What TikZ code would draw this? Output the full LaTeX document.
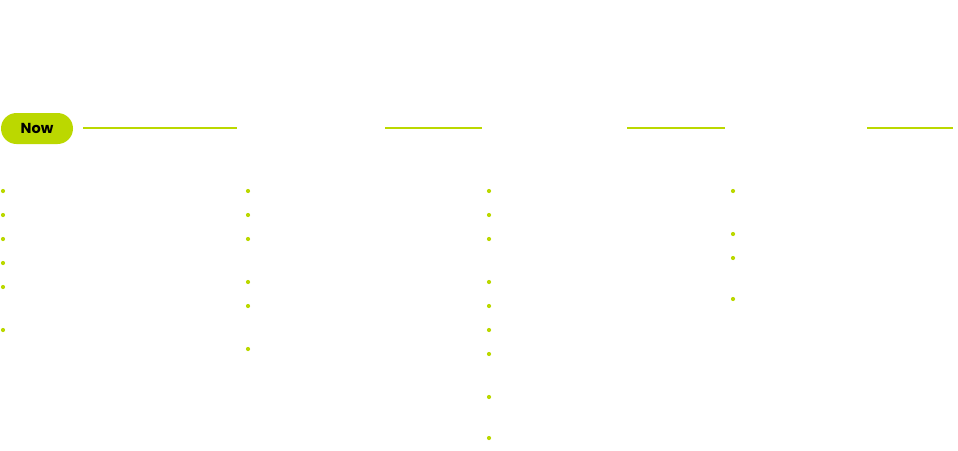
\documentclass[tikz,border=0pt]{standalone}
\usepackage{fontspec}
\setmainfont{Poppins}
\begin{document}
\begin{tikzpicture}[x=1pt,y=-1pt,
  lime/.style={draw=none,fill=accent},
  rule/.style={draw=accent,line width=1.3pt},
  dot/.style={circle,fill=accent,inner sep=0pt,minimum size=4.2pt}]
\definecolor{accent}{HTML}{BBD800}
\useasboundingbox[fill=white] (0,0) rectangle (958,450);
% the "Now" marker
\node[lime,rounded corners=15.5pt,minimum width=72pt,minimum height=31pt,
      inner sep=0pt,font=\bfseries\fontsize{14.5}{16}\selectfont] (now) at (37,128.5) {Now};
% rule segments along the time axis
\coordinate (r1a) at (83,128);  \coordinate (r1b) at (237,128);
\coordinate (r2a) at (385,128); \coordinate (r2b) at (482,128);
\coordinate (r3a) at (627,128); \coordinate (r3b) at (725,128);
\coordinate (r4a) at (867,128); \coordinate (r4b) at (953,128);
\draw[rule] (r1a) -- (r1b);
\draw[rule] (r2a) -- (r2b);
\draw[rule] (r3a) -- (r3b);
\draw[rule] (r4a) -- (r4b);
% bullet markers, column by column
\foreach \y [count=\i] in {191,215,239,263,287,330}
  \node[dot] (a\i) at (3,\y) {};
\foreach \y [count=\i] in {191,215,239,282,306,349}
  \node[dot] (b\i) at (248,\y) {};
\foreach \y [count=\i] in {191,215,239,282,306,330,354,397,438}
  \node[dot] (c\i) at (489,\y) {};
\foreach \y [count=\i] in {191,234,258,299}
  \node[dot] (d\i) at (733,\y) {};
\end{tikzpicture}
\end{document}
